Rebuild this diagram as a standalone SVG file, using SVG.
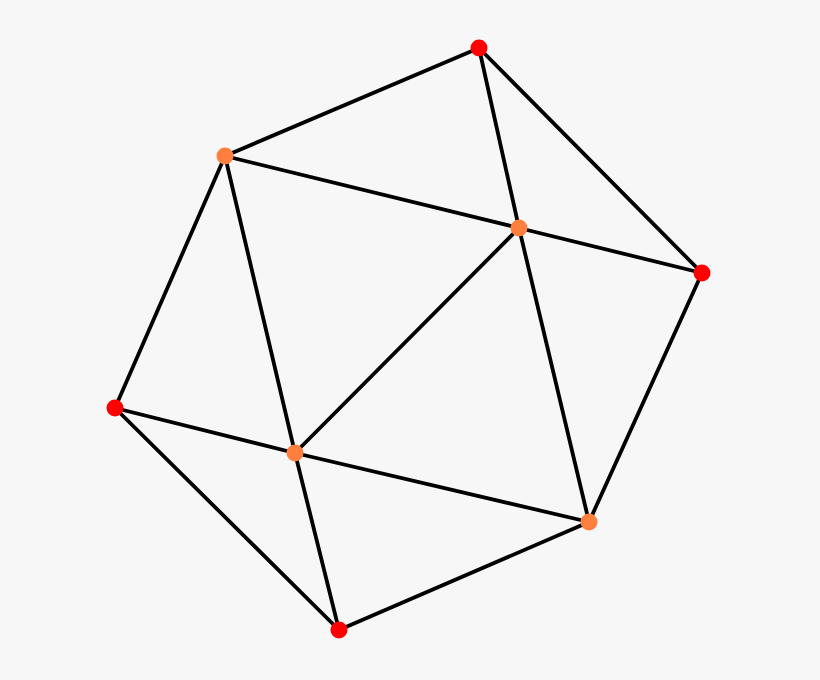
<svg xmlns="http://www.w3.org/2000/svg" width="820" height="680" viewBox="0 0 820 680">
<style>
.e{stroke:#000;stroke-width:3.8;stroke-linecap:round}
.r{fill:#FF0000}
.o{fill:#FF7F3F}
</style>
<rect width="820" height="680" fill="#F7F7F7"/>
<g id="edges">
<line class="e" x1="479" y1="48" x2="225" y2="156"/>
<line class="e" x1="479" y1="48" x2="519" y2="228"/>
<line class="e" x1="479" y1="48" x2="702" y2="273"/>
<line class="e" x1="225" y1="156" x2="519" y2="228"/>
<line class="e" x1="519" y1="228" x2="702" y2="273"/>
<line class="e" x1="225" y1="156" x2="115" y2="408"/>
<line class="e" x1="225" y1="156" x2="295" y2="453"/>
<line class="e" x1="519" y1="228" x2="295" y2="453"/>
<line class="e" x1="519" y1="228" x2="589" y2="522"/>
<line class="e" x1="702" y1="273" x2="589" y2="522"/>
<line class="e" x1="115" y1="408" x2="295" y2="453"/>
<line class="e" x1="115" y1="408" x2="339" y2="630"/>
<line class="e" x1="295" y1="453" x2="589" y2="522"/>
<line class="e" x1="295" y1="453" x2="339" y2="630"/>
<line class="e" x1="339" y1="630" x2="589" y2="522"/>
</g>
<g id="nA"><circle class="r" cx="479" cy="48" r="8.5"/></g>
<g id="nB"><circle class="o" cx="225" cy="156" r="8.5"/></g>
<g id="nC"><circle class="o" cx="519" cy="228" r="8.5"/></g>
<g id="nD"><circle class="r" cx="702" cy="273" r="8.5"/></g>
<g id="nE"><circle class="r" cx="115" cy="408" r="8.5"/></g>
<g id="nF"><circle class="o" cx="295" cy="453" r="8.5"/></g>
<g id="nG"><circle class="o" cx="589" cy="522" r="8.5"/></g>
<g id="nH"><circle class="r" cx="339" cy="630" r="8.5"/></g>
</svg>
